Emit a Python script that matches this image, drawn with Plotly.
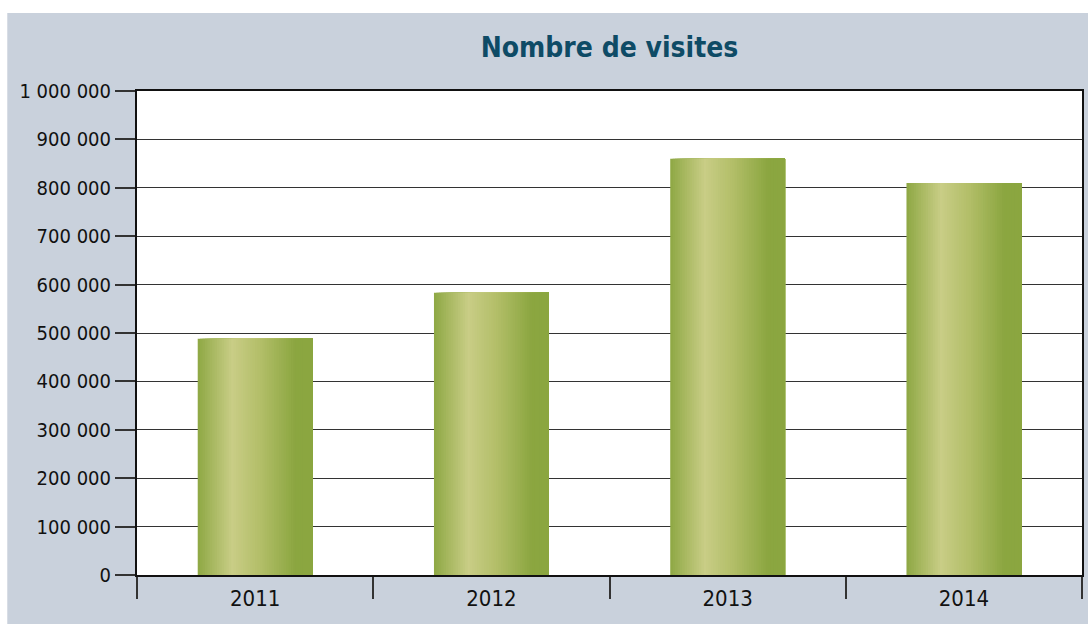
import plotly.graph_objects as go

# Data
years = ["2011", "2012", "2013", "2014"]
visits = [488000, 583000, 860000, 810000]
y_ticks = [0, 100000, 200000, 300000, 400000, 500000, 600000, 700000, 800000, 900000, 1000000]

# Gradient stops (position, rgb)
stops = [(0.0, (142, 168, 68)), (0.30, (201, 205, 134)), (0.55, (178, 190, 104)), (0.85, (139, 166, 64)), (1.0, (139, 166, 64))]

def grad(t):
    for (p0, c0), (p1, c1) in zip(stops[:-1], stops[1:]):
        if p0 <= t <= p1:
            f = (t - p0) / (p1 - p0) if p1 > p0 else 0
            return "rgb(%d,%d,%d)" % tuple(round(a + (b - a) * f) for a, b in zip(c0, c1))
    return "rgb(%d,%d,%d)" % stops[-1][1]

FONT = "DejaVu Sans Condensed, Liberation Sans Narrow, Roboto, sans-serif"

fig = go.Figure()
W = 0.486
N = 48
dw = W / N
for i in range(N):
    fig.add_trace(go.Bar(
        x=years, y=visits,
        offset=-W / 2 + i * dw, width=W - i * dw,
        marker=dict(color=grad((i + 0.5) / N), line=dict(width=0)),
        showlegend=False, hoverinfo="x+y" if i == 0 else "skip",
    ))

fig.update_layout(
    width=1088, height=624,
    barmode="overlay",
    separators=", ",
    paper_bgcolor="#c9d1dc",
    plot_bgcolor="white",
    margin=dict(l=137, r=4, t=91, b=49),
    title=dict(text="<b>Nombre de visites</b>", x=0.5, xref="paper", xanchor="center",
               y=1 - 47 / 624, yref="container", yanchor="middle",
               font=dict(family=FONT, size=28, color="#0e4b66")),
    font=dict(family=FONT, color="#111111"),
    shapes=[
        dict(type="rect", xref="paper", yref="paper", x0=-0.2, x1=1.1, y0=1 + (91 - 13) / 484, y1=1.3,
             fillcolor="white", line=dict(width=0), layer="above"),
        dict(type="rect", xref="paper", yref="paper", x0=-0.2, x1=(7 - 137) / 947, y0=-0.2, y1=1.3,
             fillcolor="white", line=dict(width=0), layer="above"),
    ],
    xaxis=dict(
        type="category", showgrid=False, showline=True, linecolor="#111111", linewidth=2, mirror=True,
        ticks="outside", tickson="boundaries", ticklen=22, tickwidth=2, tickcolor="#333333",
        tickfont=dict(size=22, color="#111111"), ticklabelstandoff=3,
    ),
    yaxis=dict(
        range=[0, 1000000], tickvals=y_ticks, tickformat=",d",
        showgrid=True, gridcolor="#333333", gridwidth=1,
        showline=True, linecolor="#111111", linewidth=2, mirror=True,
        ticks="outside", ticklen=20, tickwidth=1.5, tickcolor="#333333",
        tickfont=dict(size=20, color="#111111"), zeroline=False,
    ),
)

fig.write_html("out.html", config={"displayModeBar": False},
               post_script="document.body.style.margin='0';document.body.style.overflow='hidden';")
